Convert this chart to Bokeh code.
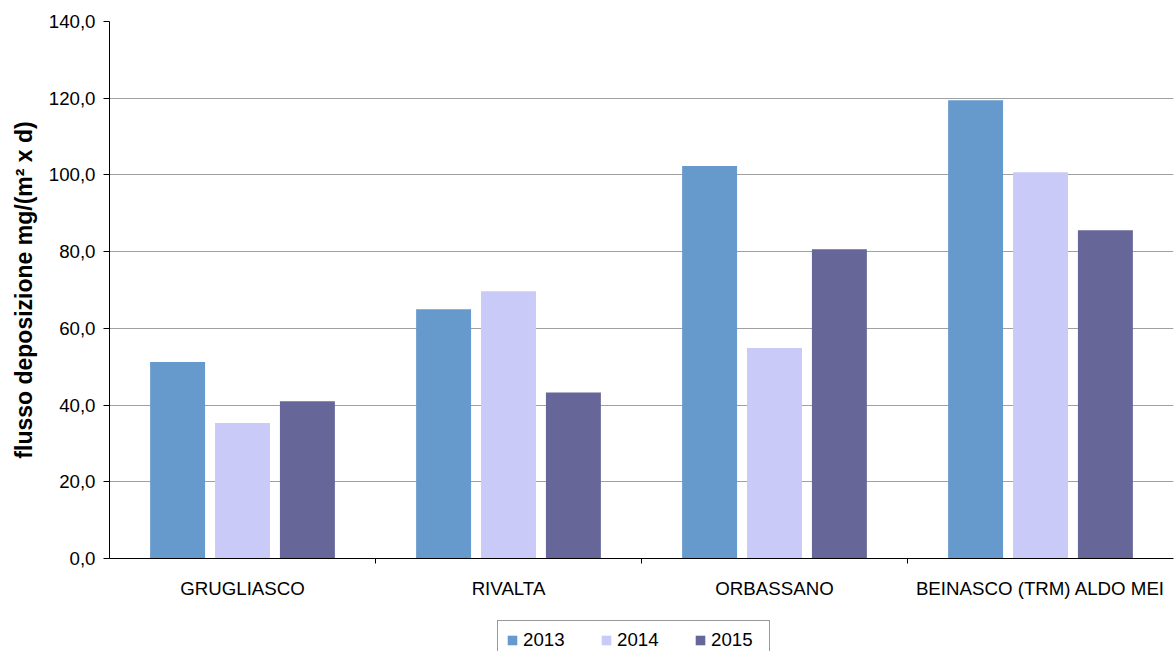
from bokeh.plotting import figure
from bokeh.layouts import column
from bokeh.models import ColumnDataSource, FixedTicker, Range1d, Legend, LegendItem
from bokeh.embed import file_html
from bokeh.resources import INLINE

categories = ["GRUGLIASCO", "RIVALTA", "ORBASSANO", "BEINASCO (TRM) ALDO MEI"]
years = ["2013", "2014", "2015"]
v2013 = [51.2, 65.0, 102.3, 119.5]
v2014 = [35.3, 69.7, 54.9, 100.7]
v2015 = [41.0, 43.3, 80.6, 85.6]
y_ticks = [0, 20, 40, 60, 80, 100, 120, 140]

colors = ["#6699CC", "#CACAF8", "#666699"]
series = [v2013, v2014, v2015]
offsets = [-0.244, 0.0, 0.244]
FONT = "Liberation Sans"
FS = "18.7px"

p = figure(frame_width=1064, frame_height=537, output_backend="svg", toolbar_location=None,
           x_range=Range1d(0, len(categories)), y_range=Range1d(0, 140),
           min_border_left=109, min_border_top=21, min_border_right=1, min_border_bottom=45)
p.outline_line_color = None
p.background_fill_color = "white"
p.border_fill_color = "white"

# legend strip below the chart (its bars sit below its visible range; only the legend shows)
p2 = figure(width=1174, height=80, output_backend="svg", toolbar_location=None,
            x_range=Range1d(0, len(categories)), y_range=Range1d(500, 510),
            x_axis_location=None, y_axis_location=None,
            min_border=0)
p2.outline_line_color = None
p2.grid.grid_line_color = None
p2.background_fill_color = "white"
p2.border_fill_color = "white"

renderers = []
centers = [i + 0.5 for i in range(len(categories))]
for vals, col, off in zip(series, colors, offsets):
    src = ColumnDataSource(dict(x=[c + off for c in centers], top=vals))
    p.vbar(x="x", top="top", width=0.2066, source=src, fill_color=col, line_color=None)
    r2 = p2.vbar(x="x", top="top", width=0.2066, source=src, fill_color=col, line_color=None)
    renderers.append(r2)

# x axis
xa = p.xaxis[0]
xa.ticker = FixedTicker(ticks=centers, minor_ticks=[1, 2, 3])
xa.major_label_overrides = {c: name for c, name in zip(centers, categories)}
xa.major_tick_line_color = None
xa.major_tick_out = 0
xa.major_tick_in = 0
xa.minor_tick_out = 5
xa.minor_tick_in = 0
xa.minor_tick_line_color = "black"
xa.axis_line_color = "black"
xa.major_label_text_font = FONT
xa.major_label_text_font_size = FS
xa.major_label_text_color = "black"
xa.major_label_standoff = 14

# y axis
ya = p.yaxis[0]
ya.ticker = FixedTicker(ticks=y_ticks)
ya.major_label_overrides = {t: f"{t:.1f}".replace(".", ",") for t in y_ticks}
ya.major_tick_out = 6
ya.major_tick_in = 0
ya.minor_tick_line_color = None
ya.axis_line_color = "black"
ya.major_label_text_font = FONT
ya.major_label_text_font_size = FS
ya.major_label_text_color = "black"
ya.major_label_standoff = 8
ya.axis_label = "flusso deposizione mg/(m² x d)"
ya.axis_label_text_font = FONT
ya.axis_label_text_font_size = "23px"
ya.axis_label_text_font_style = "bold"
ya.axis_label_text_color = "black"
ya.axis_label_standoff = 9

p.xgrid.grid_line_color = None
p.ygrid.grid_line_color = "#a0a0a0"
p.ygrid.grid_line_width = 1

legend = Legend(items=[LegendItem(label=y, renderers=[r]) for y, r in zip(years, renderers)],
                orientation="horizontal", location=(388, 23))
legend.label_text_font = FONT
legend.label_text_font_size = FS
legend.label_text_color = "black"
legend.glyph_width = 12
legend.glyph_height = 12
legend.label_standoff = 5
legend.label_width = 50
legend.spacing = 27
legend.padding = 8
legend.margin = 0
legend.border_line_color = "#333333"
legend.border_line_width = 1
legend.background_fill_alpha = 1.0
p2.add_layout(legend, "center")

layout = column(p, p2, spacing=0)
open("out.html", "w").write(file_html(layout, INLINE))
